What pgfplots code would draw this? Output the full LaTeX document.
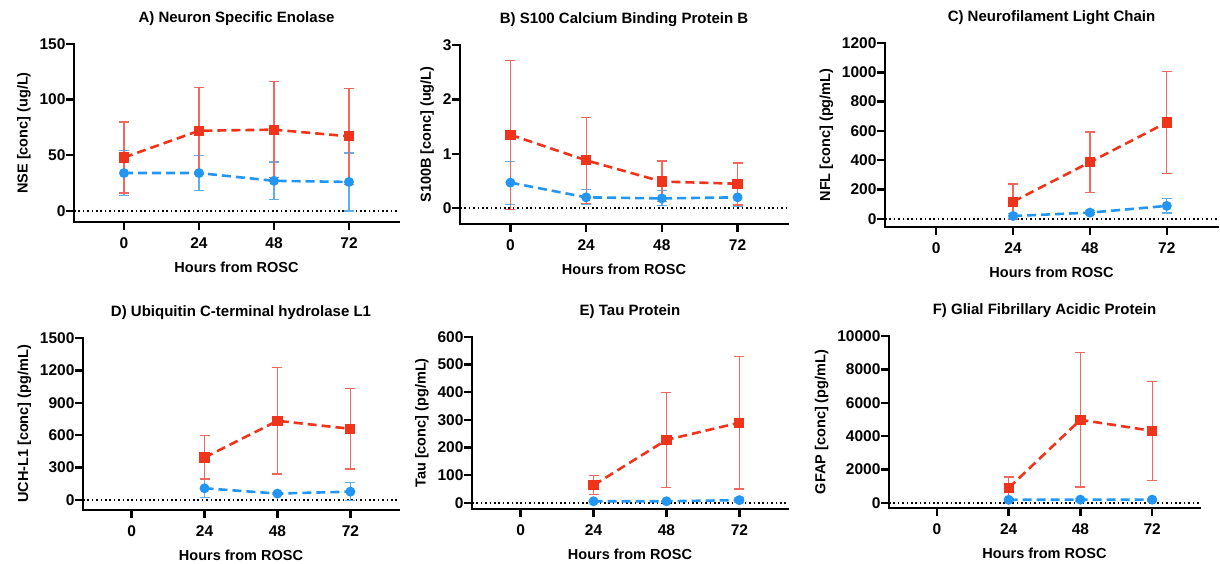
\documentclass[border=0pt]{standalone}
\usepackage{fontspec}
\setmainfont{Liberation Sans}
\usepackage{pgfplots}
\usepackage{pgfplotstable}
\pgfplotsset{compat=1.18}

\definecolor{redln}{RGB}{240,52,28}
\definecolor{rederr}{RGB}{240,105,92}
\definecolor{blueln}{RGB}{34,150,242}
\definecolor{blueerr}{RGB}{95,175,238}

% x  red mean/low/high   blue mean/low/high
\pgfplotstableread{
x  rm    rlo   rhi   bm   blo  bhi
0  48    16    80    34   14   54
24 72    33    111   34   18   50
48 73    30    116   27   10   44
72 67    24    110   26   0    52
}\tabA
\pgfplotstableread{
x  rm    rlo   rhi   bm   blo  bhi
0  1.35  -0.03 2.72  0.47 0.07 0.86
24 0.88  0.09  1.67  0.20 0.07 0.34
48 0.49  0.12  0.87  0.18 0.05 0.32
72 0.45  0.06  0.83  0.20 0.04 0.37
}\tabB
\pgfplotstableread{
x  rm    rlo   rhi   bm   blo  bhi
24 118   -2    239   20   2    39
48 387   182   592   43   29   57
72 658   312   1004  89   40   137
}\tabC
\pgfplotstableread{
x  rm    rlo   rhi   bm   blo  bhi
24 393   195   597   108  22   195
48 733   240   1228  59   50   68
72 659   288   1030  77   -6   161
}\tabD
\pgfplotstableread{
x  rm    rlo   rhi   bm   blo  bhi
24 64    30    98    6    3    9
48 228   55    400   6    3    9
72 290   50    530   10   2    18
}\tabE
\pgfplotstableread{
x  rm    rlo   rhi   bm   blo  bhi
24 896   220   1560  190  120  260
48 4980  950   9020  200  120  280
72 4320  1350  7260  200  120  280
}\tabF

\pgfplotsset{
  prism/.style={
    scale only axis, anchor=south west, clip=false,
    axis x line*=bottom, axis y line*=left,
    axis line style={line width=2.4pt, black, line cap=rect},
    tick align=outside, major tick length=8pt,
    tick style={line width=2.4pt, black},
    xmin=-16, xmax=88, xtick={0,24,48,72},
    /pgf/number format/assume math mode=true,
    /pgf/number format/set thousands separator={},
    scaled y ticks=false,
    ticklabel style={font=\fontsize{15.5}{15.5}\selectfont\bfseries},
    x tick label style={yshift=-4pt},
    y tick label style={xshift=3pt},
    label style={font=\fontsize{14.5}{14.5}\selectfont\bfseries},
    xlabel={Hours from ROSC},
    xlabel style={at={(axis description cs:0.5,0)}, anchor=center, yshift=-45pt},
    ylabel style={xshift=0pt, yshift=2pt},
    title style={font=\fontsize{15}{15}\selectfont\bfseries, at={(axis description cs:0.5,1)}, anchor=base, yshift=15pt},
  },
  errs/.style={forget plot, draw=none, mark=none,
    error bars/.cd, y dir=both, y explicit,
    error bar style={draw=#1, line width=1.3pt, solid},
    error mark options={draw=#1, rotate=90, mark size=5pt, line width=1.3pt, solid}},
  redline/.style={redln, line width=2.6pt, dash pattern=on 9pt off 5pt,
    mark=square*, mark size=3.8pt, mark options={solid, fill=redln, draw=redln}},
  blueline/.style={blueln, line width=2.6pt, dash pattern=on 9pt off 5pt,
    mark=*, mark size=3.6pt, mark options={solid, fill=blueln, draw=blueln}},
  zeroline/.style={forget plot, black, line width=1.8pt, dash pattern=on 1.6pt off 2.8pt},
}

\newcommand{\series}[1]{%
  \addplot[zeroline] coordinates {(-16,0) (88,0)};
  \addplot[errs=blueerr] table[x=x, y=bm, y error plus expr=\thisrow{bhi}-\thisrow{bm}, y error minus expr=\thisrow{bm}-\thisrow{blo}] {#1};
  \addplot[errs=rederr] table[x=x, y=rm, y error plus expr=\thisrow{rhi}-\thisrow{rm}, y error minus expr=\thisrow{rm}-\thisrow{rlo}] {#1};
  \addplot[blueline] table[x=x, y=bm] {#1};
  \addplot[redline] table[x=x, y=rm] {#1};
}

\begin{document}
\begin{tikzpicture}[x=1pt, y=1pt]
\useasboundingbox (0,0) rectangle (1220,564);

\begin{axis}[prism, at={(74pt,342pt)}, width=325pt, height=178pt,
  ymin=-10, ymax=150, ytick={0,50,100,150},
  title={A) Neuron Specific Enolase}, ylabel={NSE [conc] (ug/L)}]
\series{\tabA}
\end{axis}

\begin{axis}[prism, at={(460pt,340pt)}, width=328pt, height=179pt,
  ymin=-0.29, ymax=3, ytick={0,1,2,3},
  title={B) S100 Calcium Binding Protein B}, ylabel={S100B [conc] (ug/L)}]
\series{\tabB}
\end{axis}

\begin{axis}[prism, at={(885pt,337pt)}, width=333pt, height=184pt,
  ymin=-55, ymax=1200, ytick={0,200,...,1200},
  title={C) Neurofilament Light Chain}, ylabel={NFL [conc] (pg/mL)}]
\series{\tabC}
\end{axis}

\begin{axis}[prism, at={(83pt,54pt)}, width=316pt, height=172pt,
  ymin=-93, ymax=1500, ytick={0,300,...,1500},
  title={D) Ubiquitin C-terminal hydrolase L1}, ylabel={UCH-L1 [conc] (pg/mL)}]
\series{\tabD}
\end{axis}

\begin{axis}[prism, at={(472pt,55pt)}, width=316pt, height=172pt,
  ymin=-22, ymax=600, ytick={0,100,...,600},
  title={E) Tau Protein}, ylabel={Tau [conc] (pg/mL)}]
\series{\tabE}
\end{axis}

\begin{axis}[prism, at={(889pt,56pt)}, width=311pt, height=172pt,
  ymin=-300, ymax=10000, ytick={0,2000,...,10000},
  title={F) Glial Fibrillary Acidic Protein}, ylabel={GFAP [conc] (pg/mL)}]
\series{\tabF}
\end{axis}
\end{tikzpicture}
\end{document}
